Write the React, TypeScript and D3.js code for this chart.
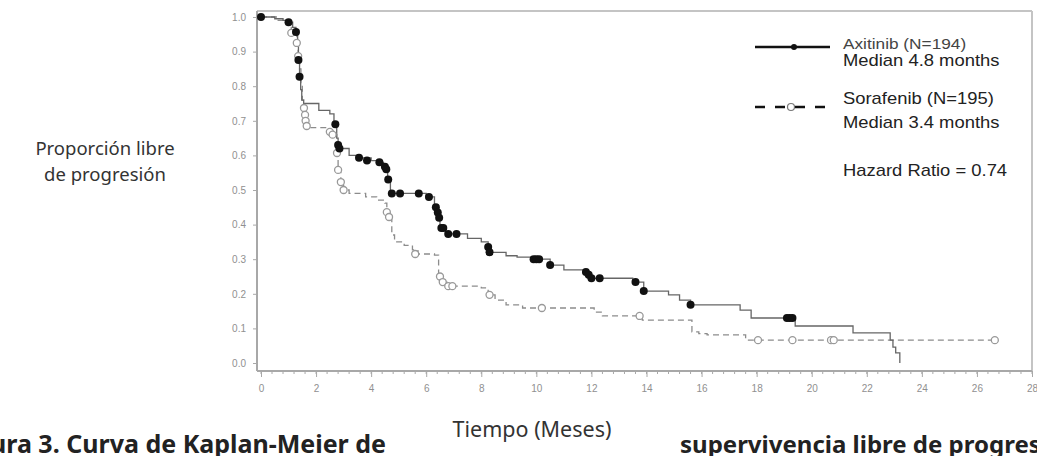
import React, { useEffect, useRef } from "react";
import * as d3 from "d3";

// Kaplan-Meier step points (time in months, proportion progression-free)
const axTimes = [0, 0.5, 0.8, 1.0, 1.15, 1.27, 1.33, 1.36, 1.4, 1.44, 1.48, 1.55, 2.1, 2.5, 2.65, 2.75, 2.8, 2.88, 3.2, 3.6, 4.0, 4.3, 4.45, 4.6, 4.7, 6.0, 6.3, 6.4, 6.5, 6.7, 7.5, 8.0, 8.25, 8.35, 8.9, 9.3, 9.9, 10.5, 11.0, 11.8, 11.95, 12.1, 13.5, 13.9, 14.8, 15.2, 15.6, 17.4, 17.8, 19.4, 21.5, 22.85, 22.95, 23.05, 23.2];
const axSurv = [1.0, 0.995, 0.99, 0.985, 0.97, 0.957, 0.92, 0.876, 0.827, 0.79, 0.76, 0.75, 0.73, 0.72, 0.69, 0.65, 0.63, 0.62, 0.6, 0.593, 0.585, 0.58, 0.567, 0.53, 0.49, 0.48, 0.45, 0.42, 0.39, 0.373, 0.36, 0.35, 0.335, 0.32, 0.31, 0.306, 0.3, 0.283, 0.269, 0.263, 0.25, 0.245, 0.234, 0.208, 0.197, 0.182, 0.168, 0.153, 0.13, 0.107, 0.087, 0.066, 0.046, 0.029, 0.0];
const axCensorT = [0, 1.0, 1.27, 1.36, 1.4, 2.7, 2.8, 2.85, 3.56, 3.85, 4.3, 4.5, 4.55, 4.62, 4.75, 5.05, 5.73, 6.1, 6.35, 6.42, 6.47, 6.55, 6.62, 6.8, 7.1, 8.25, 8.3, 9.9, 10.0, 10.1, 10.5, 11.8, 11.9, 12.0, 12.3, 13.6, 13.9, 15.6, 19.1, 19.2, 19.3];
const axCensorS = [1.0, 0.985, 0.957, 0.876, 0.827, 0.69, 0.63, 0.62, 0.593, 0.585, 0.58, 0.567, 0.56, 0.53, 0.49, 0.49, 0.49, 0.48, 0.45, 0.435, 0.42, 0.39, 0.39, 0.373, 0.373, 0.335, 0.32, 0.3, 0.3, 0.3, 0.283, 0.263, 0.255, 0.245, 0.245, 0.234, 0.208, 0.168, 0.13, 0.13, 0.13];

const soTimes = [0, 0.6, 1.0, 1.1, 1.3, 1.35, 1.4, 1.45, 1.5, 1.55, 1.6, 1.65, 2.4, 2.5, 2.6, 2.75, 2.8, 2.9, 3.0, 3.2, 3.8, 4.2, 4.5, 4.57, 4.65, 4.75, 4.85, 5.2, 5.5, 5.7, 6.3, 6.45, 6.6, 6.75, 8.0, 8.25, 8.5, 8.9, 9.5, 12.1, 12.4, 13.85, 15.65, 15.9, 16.2, 17.6, 26.65];
const soSurv = [1.0, 0.99, 0.975, 0.954, 0.925, 0.887, 0.85, 0.81, 0.76, 0.737, 0.7, 0.68, 0.673, 0.668, 0.66, 0.607, 0.558, 0.523, 0.5, 0.49, 0.48, 0.471, 0.462, 0.436, 0.422, 0.37, 0.35, 0.34, 0.327, 0.315, 0.312, 0.25, 0.234, 0.222, 0.217, 0.197, 0.182, 0.168, 0.159, 0.147, 0.136, 0.124, 0.09, 0.085, 0.081, 0.066, 0.066];
const soCensorT = [1.1, 1.3, 1.35, 1.56, 1.6, 1.62, 1.66, 2.5, 2.6, 2.76, 2.8, 2.9, 3.0, 4.57, 4.65, 5.6, 6.5, 6.6, 6.8, 6.95, 8.3, 10.2, 13.75, 18.05, 19.3, 20.7, 20.8, 26.65];
const soCensorS = [0.954, 0.925, 0.887, 0.737, 0.717, 0.7, 0.685, 0.668, 0.66, 0.607, 0.558, 0.523, 0.5, 0.436, 0.422, 0.315, 0.25, 0.234, 0.222, 0.222, 0.197, 0.159, 0.136, 0.066, 0.066, 0.066, 0.066, 0.066];

const yTicks = [0, 0.1, 0.2, 0.3, 0.4, 0.5, 0.6, 0.7, 0.8, 0.9, 1.0];
const xTicks = [0, 2, 4, 6, 8, 10, 12, 14, 16, 18, 20, 22, 24, 26, 28];
const legendLines = ["Axitinib (N=194)", "Median 4.8 months", "Sorafenib (N=195)", "Median 3.4 months", "Hazard Ratio = 0.74"];

const KMChart = () => {
  const ref = useRef(null);

  useEffect(() => {
    const g = d3.select(ref.current);
    g.selectAll("*").remove();

    const x = d3.scaleLinear().domain([0, 28]).range([261, 1032]);
    const y = d3.scaleLinear().domain([0, 1]).range([363, 17]);
    const axisColor = "#a8a8a8";
    const tickFont = "Arial, 'Liberation Sans', sans-serif";

    // frame
    g.append("line").attr("x1", 257).attr("x2", 1032).attr("y1", 11).attr("y2", 11)
      .attr("stroke", "#c4c4c4").attr("stroke-width", 2);
    g.append("line").attr("x1", 1032).attr("x2", 1032).attr("y1", 11).attr("y2", 371)
      .attr("stroke", "#c4c4c4").attr("stroke-width", 2);

    // y axis
    const yAxisG = g.append("g")
      .attr("transform", "translate(257,0)")
      .call(d3.axisLeft(y).tickValues(yTicks).tickFormat(d3.format(".1f")).tickSize(4).tickPadding(7));
    yAxisG.select(".domain").attr("d", "M0,11V371").attr("stroke", axisColor).attr("stroke-width", 2);
    yAxisG.selectAll(".tick line").attr("stroke", axisColor);
    yAxisG.selectAll("text").attr("fill", "#909090").attr("font-size", 10).attr("font-family", tickFont);

    // x axis, minor ticks every 0.4
    const minor = d3.range(0, 28.01, 0.4);
    g.append("g").selectAll("line").data(minor).enter().append("line")
      .attr("x1", d => x(d)).attr("x2", d => x(d)).attr("y1", 371).attr("y2", 374)
      .attr("stroke", axisColor);
    const xAxisG = g.append("g")
      .attr("transform", "translate(0,371)")
      .call(d3.axisBottom(x).tickValues(xTicks).tickSize(6).tickPadding(8));
    xAxisG.select(".domain").attr("d", "M257,0H1032").attr("stroke", axisColor).attr("stroke-width", 2);
    xAxisG.selectAll(".tick line").attr("stroke", axisColor);
    xAxisG.selectAll("text").attr("fill", "#909090").attr("font-size", 10).attr("font-family", tickFont);

    const line = d3.line().x(d => x(d[0])).y(d => y(d[1])).curve(d3.curveStepAfter);
    const soPts = soTimes.map((t, i) => [t, soSurv[i]]);
    const axPts = axTimes.map((t, i) => [t, axSurv[i]]);

    g.append("path").attr("d", line(soPts)).attr("fill", "none")
      .attr("stroke", "#8c8c8c").attr("stroke-width", 1.3).attr("stroke-dasharray", "6,4");
    g.append("path").attr("d", line(axPts)).attr("fill", "none")
      .attr("stroke", "#666").attr("stroke-width", 1.3);

    g.append("g").selectAll("circle").data(soCensorT).enter().append("circle")
      .attr("cx", d => x(d)).attr("cy", (d, i) => y(soCensorS[i])).attr("r", 3.5)
      .attr("fill", "#fff").attr("stroke", "#999").attr("stroke-width", 1.3);
    g.append("g").selectAll("circle").data(axCensorT).enter().append("circle")
      .attr("cx", d => x(d)).attr("cy", (d, i) => y(axCensorS[i])).attr("r", 4)
      .attr("fill", "#111");

    // legend
    const lg = g.append("g").attr("font-family", tickFont);
    lg.append("line").attr("x1", 755).attr("x2", 830).attr("y1", 47).attr("y2", 47)
      .attr("stroke", "#111").attr("stroke-width", 2.5);
    lg.append("circle").attr("cx", 794).attr("cy", 47).attr("r", 3).attr("fill", "#111");
    lg.append("line").attr("x1", 755).attr("x2", 830).attr("y1", 107).attr("y2", 107)
      .attr("stroke", "#111").attr("stroke-width", 2.5).attr("stroke-dasharray", "10,10");
    lg.append("circle").attr("cx", 791).attr("cy", 107).attr("r", 3.5)
      .attr("fill", "#fff").attr("stroke", "#777").attr("stroke-width", 1.2);

    const legendY = [49, 66, 104, 128, 176];
    lg.append("g").attr("transform", "translate(843,0) scale(1.15,1)")
      .selectAll("text").data(legendLines).enter().append("text")
      .attr("x", 0).attr("y", (d, i) => legendY[i])
      .attr("font-size", (d, i) => (i === 0 ? 15 : 16))
      .attr("fill", (d, i) => (i === 0 ? "#444" : "#222"))
      .text(d => d);
  }, []);

  return <g ref={ref} />;
};

const App = () => {
  const label = { fontFamily: "'Noto Sans', 'Open Sans', sans-serif", fill: "#333" };
  return (
    <svg width={1037} height={456} style={{ position: "absolute", left: 0, top: 0, background: "#fff" }}>
      <text x={105} y={155} textAnchor="middle" fontSize={18.5} style={label}>Proporción libre</text>
      <text x={105} y={181} textAnchor="middle" fontSize={18.5} style={label}>de progresión</text>
      <KMChart />
      <text x={532} y={437} textAnchor="middle" fontSize={21.5} style={label}>Tiempo (Meses)</text>
      <text x={386} y={453} textAnchor="end" fontSize={25} fontWeight="bold" style={{ ...label, fill: "#222" }}>Figura 3. Curva de Kaplan-Meier de</text>
      <text x={680} y={453} fontSize={24} fontWeight="bold" style={{ ...label, fill: "#222" }}>supervivencia libre de progresión</text>
    </svg>
  );
};

export default App;
